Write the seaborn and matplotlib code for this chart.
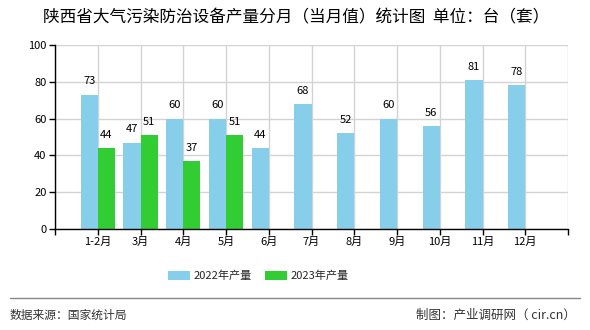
import matplotlib
matplotlib.use("Agg")
import matplotlib.pyplot as plt
import seaborn as sns
import pandas as pd
import numpy as np
from matplotlib.patches import Patch
from matplotlib.lines import Line2D

months = ["1-2月", "3月", "4月", "5月", "6月", "7月", "8月", "9月", "10月", "11月", "12月"]
vals_2022 = [73, 47, 60, 60, 44, 68, 52, 60, 56, 81, 78]
vals_2023 = [44, 51, 37, 51, np.nan, np.nan, np.nan, np.nan, np.nan, np.nan, np.nan]
series = ["2022年产量", "2023年产量"]
colors = ["#87CEEB", "#32CD32"]
yticks = [0, 20, 40, 60, 80, 100]

df = pd.DataFrame({
    "month": months * 2,
    "value": vals_2022 + vals_2023,
    "series": [series[0]] * len(months) + [series[1]] * len(months),
})

sns.set_theme(style="white")
plt.rcParams['font.family'] = ['Noto Sans CJK SC', 'DejaVu Sans']

fig = plt.figure(figsize=(5.9, 3.3), dpi=100)
ax = fig.add_axes([55/590, 1-229/330, (568-55)/590, (229-45)/330])

sns.barplot(data=df, x="month", y="value", hue="series", order=months,
            hue_order=series, palette=colors, width=0.8, ax=ax,
            saturation=1, legend=False, linewidth=0, edgecolor="none", zorder=3)

for cont in ax.containers:
    for rect in cont:
        h = rect.get_height()
        if np.isnan(h) or h == 0:
            continue
        ax.text(rect.get_x() + rect.get_width()/2, h + 4.5, f"{int(h)}",
                ha="center", va="bottom", fontsize=8, color="black", zorder=4)

ax.set_xlim(-1, len(months))
ax.set_ylim(0, 100)
ax.set_yticks(yticks)
ax.set_yticklabels([str(t) for t in yticks], fontsize=8, color="black")
ax.set_xticks(list(range(-1, len(months) + 1)))
ax.set_xticklabels([""] + months + [""], fontsize=8, color="black")
ax.set_xlabel("")
ax.set_ylabel("")
ax.grid(True, color="#d3d3d3", linewidth=1, zorder=0)
ax.set_axisbelow(True)
for s in ["top", "right"]:
    ax.spines[s].set_visible(False)
for s in ["left", "bottom"]:
    ax.spines[s].set_color("black")
    ax.spines[s].set_linewidth(1)
    ax.spines[s].set_zorder(5)
ax.tick_params(axis="both", which="both", direction="out", length=4, width=1,
               color="black", bottom=True, left=True, pad=2)

fig.text(296/590, 1-18/330, "陕西省大气污染防治设备产量分月（当月值）统计图  单位：台（套）",
         ha="center", va="center", fontsize=12, color="black")

handles = [Patch(facecolor=colors[0], edgecolor="none"),
           Patch(facecolor=colors[1], edgecolor="none")]
fig.legend(handles, series, loc="center", bbox_to_anchor=(258/590, 1-276/330),
           ncol=2, frameon=False, fontsize=8, handlelength=2.0, handleheight=0.8,
           columnspacing=1.2, handletextpad=0.3)

fig.add_artist(Line2D([10/590, 580/590], [1-298/330, 1-298/330],
                      color="#888888", linewidth=1, transform=fig.transFigure))
fig.text(10/590, 1-315/330, "数据来源：国家统计局", ha="left", va="center",
         fontsize=8.5, color="#333333")
fig.text(576/590, 1-315/330, "制图：产业调研网（ cir.cn）", ha="right", va="center",
         fontsize=9, color="#333333")

fig.savefig("out.png", dpi=100)
